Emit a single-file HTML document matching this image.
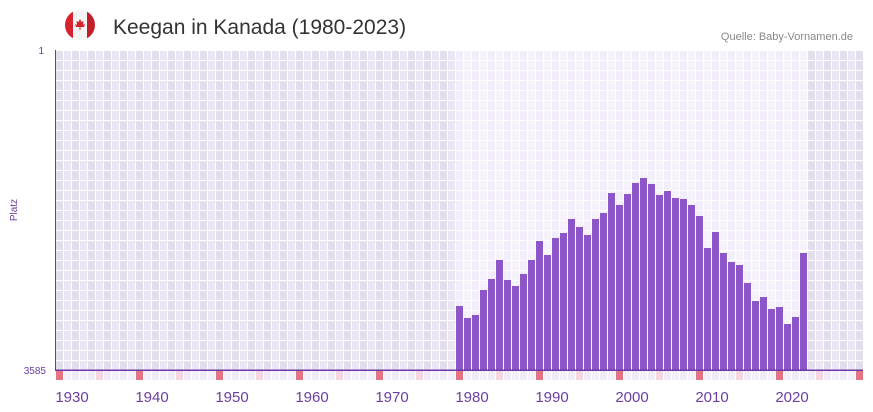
<!DOCTYPE html>
<html><head><meta charset="utf-8"><style>
html,body{margin:0;padding:0;background:#fff;width:873px;height:412px;overflow:hidden}
svg{display:block}
</style></head><body>
<svg width="873" height="412" xmlns="http://www.w3.org/2000/svg" font-family="'Liberation Sans', sans-serif">
<defs>
<pattern id="gl" x="55" y="50" width="8" height="10" patternUnits="userSpaceOnUse">
<rect x="0" y="0" width="1" height="10" fill="#fff"/>
<rect x="0" y="0" width="8" height="1" fill="#fff"/>
</pattern>
<pattern id="alt" x="55" y="50" width="16" height="10" patternUnits="userSpaceOnUse">
<rect x="8" y="0" width="8" height="10" fill="#fff" fill-opacity="0.25"/>
</pattern>
<pattern id="bs" x="55" y="371" width="80" height="9" patternUnits="userSpaceOnUse">
<rect x="0" y="0" width="80" height="9" fill="#fff"/>
<rect x="9" y="0" width="7" height="9" fill="#f4f0fb"/>
<rect x="17" y="0" width="7" height="9" fill="#f0ebf8"/>
<rect x="25" y="0" width="7" height="9" fill="#f4f0fb"/>
<rect x="33" y="0" width="7" height="9" fill="#f0ebf8"/>
<rect x="41" y="0" width="7" height="9" fill="#f3d6e0"/>
<rect x="49" y="0" width="7" height="9" fill="#f0ebf8"/>
<rect x="57" y="0" width="7" height="9" fill="#f4f0fb"/>
<rect x="65" y="0" width="7" height="9" fill="#f0ebf8"/>
<rect x="73" y="0" width="7" height="9" fill="#f4f0fb"/>
<rect x="1" y="0" width="7" height="9" fill="#e57480"/>
</pattern>
<clipPath id="fc"><circle cx="80" cy="25" r="15"/></clipPath>
</defs>
<g clip-path="url(#fc)">
<rect x="65" y="10" width="30" height="30" fill="#f4f4f4"/>
<rect x="65" y="10" width="8" height="30" fill="#d8232f"/>
<rect x="87" y="10" width="8" height="30" fill="#c11f2a"/>
</g>
<path d="M80 19 L81.5 22 L83.5 21 L83 25 L85 24 L84 27 L80.5 27 L80.5 30 L79.5 30 L79.5 27 L76 27 L75 24 L77 25 L76.5 21 L78.5 22Z" fill="#d8232f"/>
<text x="113" y="34" font-size="21" fill="#333">Keegan in Kanada (1980-2023)</text>
<text x="853" y="40" font-size="11" fill="#888" text-anchor="end">Quelle: Baby-Vornamen.de</text>
<rect x="55" y="50" width="808" height="320" fill="#e3deec"/>
<rect x="455" y="50" width="353" height="320" fill="#f1edfa"/>
<rect x="55" y="50" width="808" height="320" fill="url(#alt)"/>
<rect x="55" y="50" width="808" height="320" fill="url(#gl)"/>
<g fill="#8c55c8">
<rect x="456" y="306" width="7" height="64"/>
<rect x="464" y="318" width="7" height="52"/>
<rect x="472" y="315" width="7" height="55"/>
<rect x="480" y="290" width="7" height="80"/>
<rect x="488" y="279" width="7" height="91"/>
<rect x="496" y="260" width="7" height="110"/>
<rect x="504" y="280" width="7" height="90"/>
<rect x="512" y="286" width="7" height="84"/>
<rect x="520" y="274" width="7" height="96"/>
<rect x="528" y="260" width="7" height="110"/>
<rect x="536" y="241" width="7" height="129"/>
<rect x="544" y="255" width="7" height="115"/>
<rect x="552" y="238" width="7" height="132"/>
<rect x="560" y="233" width="7" height="137"/>
<rect x="568" y="219" width="7" height="151"/>
<rect x="576" y="227" width="7" height="143"/>
<rect x="584" y="235" width="7" height="135"/>
<rect x="592" y="219" width="7" height="151"/>
<rect x="600" y="213" width="7" height="157"/>
<rect x="608" y="193" width="7" height="177"/>
<rect x="616" y="205" width="7" height="165"/>
<rect x="624" y="194" width="7" height="176"/>
<rect x="632" y="183" width="7" height="187"/>
<rect x="640" y="178" width="7" height="192"/>
<rect x="648" y="184" width="7" height="186"/>
<rect x="656" y="195" width="7" height="175"/>
<rect x="664" y="191" width="7" height="179"/>
<rect x="672" y="198" width="7" height="172"/>
<rect x="680" y="199" width="7" height="171"/>
<rect x="688" y="205" width="7" height="165"/>
<rect x="696" y="216" width="7" height="154"/>
<rect x="704" y="248" width="7" height="122"/>
<rect x="712" y="232" width="7" height="138"/>
<rect x="720" y="253" width="7" height="117"/>
<rect x="728" y="262" width="7" height="108"/>
<rect x="736" y="265" width="7" height="105"/>
<rect x="744" y="283" width="7" height="87"/>
<rect x="752" y="301" width="7" height="69"/>
<rect x="760" y="297" width="7" height="73"/>
<rect x="768" y="309" width="7" height="61"/>
<rect x="776" y="307" width="7" height="63"/>
<rect x="784" y="324" width="7" height="46"/>
<rect x="792" y="317" width="7" height="53"/>
<rect x="800" y="253" width="7" height="117"/>
</g>
<rect x="55" y="371" width="808" height="9" fill="url(#bs)"/>
<rect x="55" y="50" width="1" height="321" fill="#6a3aa8"/>
<rect x="55" y="369.5" width="808" height="1.5" fill="#6a3aa8"/>
<text x="44" y="54" font-size="10" fill="#6a3ea1" text-anchor="end">1</text>
<text x="46" y="374" font-size="10" fill="#6a3ea1" text-anchor="end">3585</text>
<text transform="translate(17,210) rotate(-90)" font-size="10" fill="#6a3ea1" text-anchor="middle">Platz</text>
<g font-size="15" fill="#6a3ea1" text-anchor="middle">
<text x="72" y="402">1930</text>
<text x="152" y="402">1940</text>
<text x="232" y="402">1950</text>
<text x="312" y="402">1960</text>
<text x="392" y="402">1970</text>
<text x="472" y="402">1980</text>
<text x="552" y="402">1990</text>
<text x="632" y="402">2000</text>
<text x="712" y="402">2010</text>
<text x="792" y="402">2020</text>
</g>
</svg>
</body></html>
